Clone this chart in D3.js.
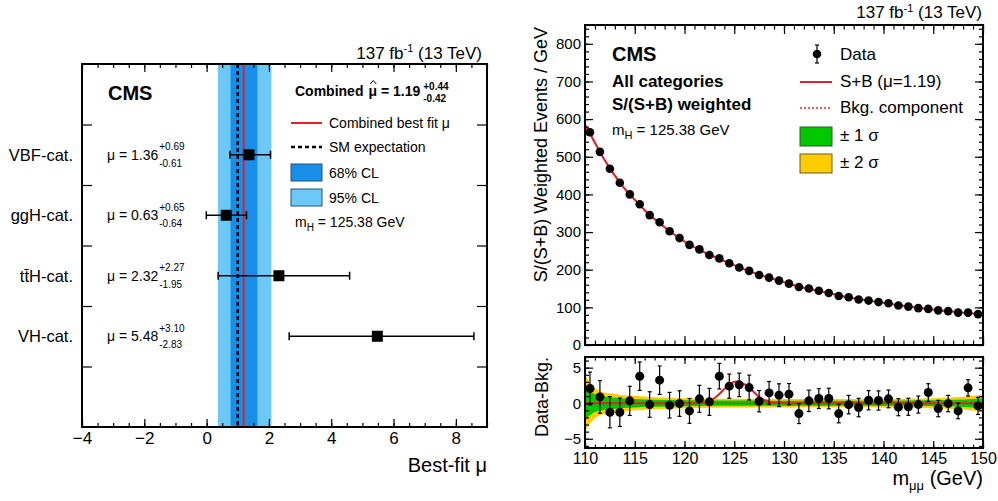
<!DOCTYPE html>
<html>
<head>
<meta charset="utf-8">
<script src="https://cdn.jsdelivr.net/npm/d3@7"></script>
<style>
  body { margin: 0; background: #fff; }
  text { font-family: "Liberation Sans", Arial, sans-serif; fill: #000; }
</style>
</head>
<body>
<script>
// ---- left panel data: per-category signal strength ----
var categories = ["VBF-cat.", "ggH-cat.", "tt\u0304H-cat.", "VH-cat."];
var muValues = [1.36, 0.63, 2.32, 5.48];
var muErrUp = [0.69, 0.65, 2.27, 3.10];
var muErrDown = [0.61, 0.64, 1.95, 2.83];
var catPos = [4.5, 3.5, 2.5, 1.5];
var combinedMu = 1.19;
var combinedErr = [0.42, 0.44];
var band95 = [0.36, 2.08];
var smMu = 1.0;
var leftXTicks = [-4, -2, 0, 2, 4, 6, 8];

// ---- right panel data: m_mumu spectrum ----
var binCenters = [110.5, 111.5, 112.5, 113.5, 114.5, 115.5, 116.5, 117.5, 118.5, 119.5,
  120.5, 121.5, 122.5, 123.5, 124.5, 125.5, 126.5, 127.5, 128.5, 129.5,
  130.5, 131.5, 132.5, 133.5, 134.5, 135.5, 136.5, 137.5, 138.5, 139.5,
  140.5, 141.5, 142.5, 143.5, 144.5, 145.5, 146.5, 147.5, 148.5, 149.5];
var dataVals = [565, 513, 468, 431, 400, 374, 345, 326, 302, 284,
  266, 254, 239, 230, 217, 206, 197, 186, 179, 171,
  163, 154, 150, 144, 138, 130, 127, 121, 118, 114,
  111, 105, 102, 98, 96, 92, 90, 86, 86, 82];
var diffVals = [2.07, 0.89, -1.27, -1.27, 0.33, 3.8, -0.19, 3.24, -0.28, -0.05,
  -1.08, 0.61, 0.19, 3.8, 2.4, 2.58, 2.2, 0.28, 1.45, 1.13,
  1.27, -1.46, 0.33, 0.66, 0.66, -1.46, -0.2, -0.61, 0.42, 0.38,
  0.61, -0.56, -0.5, -0.19, 1.5, -0.75, -0.05, -1.08, 2.16, -0.38];
var dataErr = [2.3, 2.3, 2.2, 2.0, 2.05, 2.0, 1.8, 2.0, 1.8, 1.8,
  1.75, 1.9, 1.9, 1.8, 1.7, 1.65, 1.75, 1.5, 1.6, 1.6,
  1.5, 1.4, 1.5, 1.4, 1.45, 1.3, 1.3, 1.3, 1.35, 1.35,
  1.25, 1.2, 1.2, 1.2, 1.25, 1.15, 1.15, 1.1, 1.15, 1.2];
// S+B fit curve
var fitX = [110, 111, 112, 113, 114, 115, 116, 118, 120, 122, 124, 126, 128, 130,
  132, 134, 136, 138, 140, 142, 144, 146, 148, 150];
var fitY = [585, 537, 490, 450, 415, 386, 358, 313, 275, 246, 223, 201, 183, 167,
  152, 141, 129, 120, 112, 104, 97, 91, 86, 81];
// signal part (S+B minus B) in the ratio pad
var sigX = [110, 121, 122, 123, 123.5, 124, 124.5, 125.2, 126, 126.5, 127, 127.5, 128, 128.5, 129, 130, 150];
var sigY = [0, 0, 0.1, 0.7, 1.3, 2.0, 2.6, 3.05, 2.7, 2.2, 1.5, 0.9, 0.45, 0.2, 0.05, 0, 0];
// background uncertainty bands
var bandX = [110, 110.5, 111, 111.5, 112.5, 113.5, 115, 117, 120, 125, 130, 135, 140, 145, 148, 150];
var sigma1 = [2.25, 1.7, 1.25, 1.05, 0.85, 0.7, 0.6, 0.5, 0.42, 0.37, 0.35, 0.34, 0.34, 0.4, 0.52, 0.7];
var sigma2 = [3.9, 2.9, 2.1, 1.7, 1.4, 1.2, 1.0, 0.85, 0.7, 0.62, 0.6, 0.58, 0.6, 0.7, 0.9, 1.2];

var svg = d3.select("body").append("svg")
  .attr("width", 998)
  .attr("height", 501);

// inward ROOT-like ticks, no domain line
function inTicks(g, axis, vals, len, labels, pad, fs) {
  var a = axis.tickValues(vals).tickSize(-len).tickPadding(pad || 4);
  if (!labels) a.tickFormat("");
  g.call(a);
  g.select(".domain").remove();
  g.selectAll(".tick line").attr("stroke", "#000").attr("stroke-width", 1.2);
  g.selectAll("text").attr("font-size", fs || 15).attr("font-family", "Liberation Sans, Arial, sans-serif").attr("fill", "#000");
  return g;
}

// =================== LEFT PANEL ===================
var L = { left: 82, right: 487, top: 64, bottom: 427 };
var xL = d3.scaleLinear().domain([-4, 9]).range([L.left, L.right]);
var yL = d3.scaleLinear().domain([0, 6]).range([L.bottom, L.top]);

var left = svg.append("g");

// CL bands
left.append("rect")
  .attr("x", xL(band95[0])).attr("y", L.top)
  .attr("width", xL(band95[1]) - xL(band95[0])).attr("height", L.bottom - L.top)
  .attr("fill", "#6cc8f6");
left.append("rect")
  .attr("x", xL(combinedMu - combinedErr[0])).attr("y", L.top)
  .attr("width", xL(combinedMu + combinedErr[1]) - xL(combinedMu - combinedErr[0])).attr("height", L.bottom - L.top)
  .attr("fill", "#178ee8");
left.append("line")
  .attr("x1", xL(smMu)).attr("x2", xL(smMu)).attr("y1", L.top).attr("y2", L.bottom)
  .attr("stroke", "#000").attr("stroke-width", 2.5).attr("stroke-dasharray", "4,3");
left.append("line")
  .attr("x1", xL(combinedMu)).attr("x2", xL(combinedMu)).attr("y1", L.top).attr("y2", L.bottom)
  .attr("stroke", "#e0202a").attr("stroke-width", 2);

// ticks
var lTicksMinor = d3.range(-4, 9.01, 0.5);
inTicks(left.append("g").attr("transform", `translate(0,${L.bottom})`), d3.axisBottom(xL), lTicksMinor, 4);
inTicks(left.append("g").attr("transform", `translate(0,${L.bottom})`), d3.axisBottom(xL), leftXTicks, 8, true, 5, 17);
inTicks(left.append("g").attr("transform", `translate(0,${L.top})`), d3.axisTop(xL), lTicksMinor, 4);
inTicks(left.append("g").attr("transform", `translate(0,${L.top})`), d3.axisTop(xL), leftXTicks, 8);
inTicks(left.append("g").attr("transform", `translate(${L.left},0)`), d3.axisLeft(yL), [1, 2, 3, 4, 5], 10);
inTicks(left.append("g").attr("transform", `translate(${L.right},0)`), d3.axisRight(yL), [1, 2, 3, 4, 5], 10);

// per-category points
categories.forEach(function(c, i) {
  var yc = yL(catPos[i]);
  var lo = xL(muValues[i] - muErrDown[i]), hi = xL(muValues[i] + muErrUp[i]);
  left.append("line").attr("x1", lo).attr("x2", hi).attr("y1", yc).attr("y2", yc)
    .attr("stroke", "#000").attr("stroke-width", 1.5);
  [lo, hi].forEach(function(xx) {
    left.append("line").attr("x1", xx).attr("x2", xx).attr("y1", yc - 4).attr("y2", yc + 4)
      .attr("stroke", "#000").attr("stroke-width", 1.5);
  });
  left.append("rect").attr("x", xL(muValues[i]) - 5.5).attr("y", yc - 5.5)
    .attr("width", 11).attr("height", 11).attr("fill", "#000");

  left.append("text").attr("x", 73).attr("y", yc + 6)
    .attr("text-anchor", "end").attr("font-size", 16.5).text(c);
  var t = left.append("text").attr("x", 107).attr("y", yc + 5).attr("font-size", 14)
    .text("\u03bc = " + muValues[i].toFixed(2));
  var w = t.node().getComputedTextLength();
  left.append("text").attr("x", 108 + w).attr("y", yc - 4.5).attr("font-size", 10)
    .text("+" + muErrUp[i].toFixed(2));
  left.append("text").attr("x", 108 + w).attr("y", yc + 12).attr("font-size", 10)
    .text("-" + muErrDown[i].toFixed(2));
});

left.append("rect")
  .attr("x", L.left).attr("y", L.top)
  .attr("width", L.right - L.left).attr("height", L.bottom - L.top)
  .attr("fill", "none").attr("stroke", "#000").attr("stroke-width", 2);

// texts
left.append("text").attr("x", 108).attr("y", 100).attr("font-size", 20).attr("font-weight", "bold").text("CMS");
var lumiL = left.append("text").attr("x", 482).attr("y", 59).attr("text-anchor", "end").attr("font-size", 17);
lumiL.append("tspan").text("137 fb");
lumiL.append("tspan").attr("font-size", 11).attr("dy", -7).text("-1");
lumiL.append("tspan").attr("dy", 7).text(" (13 TeV)");
left.append("text").attr("x", 487).attr("y", 472).attr("text-anchor", "end").attr("font-size", 20).text("Best-fit \u03bc");

// combined result, hat over mu drawn as a small path
var pre = left.append("text").attr("x", 295).attr("y", 96).attr("font-size", 14).attr("font-weight", "bold")
  .text("Combined");
var muX = 295 + pre.node().getComputedTextLength() + 5;
var muT = left.append("text").attr("x", muX).attr("y", 96).attr("font-size", 14).attr("font-weight", "bold")
  .text("\u03bc");
var mw = muT.node().getComputedTextLength();
var hx = muX + mw / 2 + 0.5;
left.append("path").attr("d", `M${hx - 3},${84} L${hx},${80.5} L${hx + 3},${84}`)
  .attr("fill", "none").attr("stroke", "#000").attr("stroke-width", 1);
var rest = left.append("text").attr("x", muX + mw).attr("y", 96).attr("font-size", 14).attr("font-weight", "bold")
  .text("\u00a0= " + combinedMu.toFixed(2));
var supX = muX + mw + rest.node().getComputedTextLength() + 3;
left.append("text").attr("x", supX).attr("y", 89.5).attr("font-size", 10).attr("font-weight", "bold")
  .text("+" + combinedErr[1].toFixed(2));
left.append("text").attr("x", supX).attr("y", 101.5).attr("font-size", 10).attr("font-weight", "bold")
  .text("-" + combinedErr[0].toFixed(2));

// legend
left.append("line").attr("x1", 291).attr("x2", 322).attr("y1", 123).attr("y2", 123)
  .attr("stroke", "#e0202a").attr("stroke-width", 2);
left.append("text").attr("x", 329).attr("y", 128).attr("font-size", 14).text("Combined best fit \u03bc");
left.append("line").attr("x1", 291).attr("x2", 322).attr("y1", 147).attr("y2", 147)
  .attr("stroke", "#000").attr("stroke-width", 2.5).attr("stroke-dasharray", "4,3");
left.append("text").attr("x", 329).attr("y", 152).attr("font-size", 14).text("SM expectation");
left.append("rect").attr("x", 291).attr("y", 164).attr("width", 31).attr("height", 17)
  .attr("fill", "#178ee8").attr("stroke", "#24507a").attr("stroke-width", 1);
left.append("text").attr("x", 329).attr("y", 178).attr("font-size", 14).text("68% CL");
left.append("rect").attr("x", 291).attr("y", 189).attr("width", 31).attr("height", 17)
  .attr("fill", "#6cc8f6").attr("stroke", "#24507a").attr("stroke-width", 1);
left.append("text").attr("x", 329).attr("y", 203).attr("font-size", 14).text("95% CL");
var mhL = left.append("text").attr("x", 295).attr("y", 227).attr("font-size", 14);
mhL.append("tspan").text("m");
mhL.append("tspan").attr("font-size", 10).attr("dy", 4).text("H");
mhL.append("tspan").attr("dy", -4).text(" = 125.38 GeV");

// =================== RIGHT PANEL ===================
var R = { left: 585, right: 983, top: 25, mid: 345, ltop: 357, bottom: 448 };
var xR = d3.scaleLinear().domain([110, 150]).range([R.left, R.right]);
var yU = d3.scaleLinear().domain([0, 850]).range([R.mid, R.top]);
var yD = d3.scaleLinear().domain([-6.3, 6.5]).range([R.bottom, R.ltop]);

var right = svg.append("g");

// upper pad curves
var fitLine = d3.line().x(function(d) { return xR(d[0]); }).y(function(d) { return yU(d[1]); }).curve(d3.curveMonotoneX);
var fitPts = d3.zip(fitX, fitY);
right.append("path").attr("d", fitLine(fitPts)).attr("fill", "none")
  .attr("stroke", "#e0202a").attr("stroke-width", 1.5).attr("stroke-dasharray", "2,2");
right.append("path").attr("d", fitLine(fitPts)).attr("fill", "none")
  .attr("stroke", "#e0202a").attr("stroke-width", 2);

// upper pad data
binCenters.forEach(function(b, i) {
  right.append("line").attr("x1", xR(b)).attr("x2", xR(b))
    .attr("y1", yU(dataVals[i] - dataErr[i])).attr("y2", yU(dataVals[i] + dataErr[i]))
    .attr("stroke", "#000").attr("stroke-width", 1.2);
});
right.selectAll("circle.up").data(binCenters).join("circle")
  .attr("class", "up")
  .attr("cx", function(d) { return xR(d); })
  .attr("cy", function(d, i) { return yU(dataVals[i]); })
  .attr("r", 4.3).attr("fill", "#000");

// ratio pad bands
var area2 = d3.area().x(function(d) { return xR(d[0]); })
  .y0(function(d) { return yD(-d[2]); }).y1(function(d) { return yD(d[2]); }).curve(d3.curveMonotoneX);
var area1 = d3.area().x(function(d) { return xR(d[0]); })
  .y0(function(d) { return yD(-d[1]); }).y1(function(d) { return yD(d[1]); }).curve(d3.curveMonotoneX);
var bandPts = d3.zip(bandX, sigma1, sigma2);
right.append("path").attr("d", area2(bandPts)).attr("fill", "#ffcc00");
right.append("path").attr("d", area1(bandPts)).attr("fill", "#00c800");

right.append("line").attr("x1", R.left).attr("x2", R.right).attr("y1", yD(0)).attr("y2", yD(0))
  .attr("stroke", "#e0202a").attr("stroke-width", 1.5).attr("stroke-dasharray", "2,2");
var sigLine = d3.line().x(function(d) { return xR(d[0]); }).y(function(d) { return yD(d[1]); }).curve(d3.curveMonotoneX);
right.append("path").attr("d", sigLine(d3.zip(sigX, sigY))).attr("fill", "none")
  .attr("stroke", "#e0202a").attr("stroke-width", 2);

// ratio pad data with capped error bars
binCenters.forEach(function(b, i) {
  var x0 = xR(b), y1 = yD(diffVals[i] - dataErr[i]), y2 = yD(diffVals[i] + dataErr[i]);
  right.append("line").attr("x1", x0).attr("x2", x0).attr("y1", y1).attr("y2", y2)
    .attr("stroke", "#000").attr("stroke-width", 1.2);
  [y1, y2].forEach(function(yy) {
    right.append("line").attr("x1", x0 - 2).attr("x2", x0 + 2).attr("y1", yy).attr("y2", yy)
      .attr("stroke", "#000").attr("stroke-width", 1.2);
  });
});
right.selectAll("circle.dn").data(binCenters).join("circle")
  .attr("class", "dn")
  .attr("cx", function(d) { return xR(d); })
  .attr("cy", function(d, i) { return yD(diffVals[i]); })
  .attr("r", 4.5).attr("fill", "#000");

// axes upper pad
var xMinor = d3.range(110, 150.01, 1);
var xMajor = d3.range(110, 150.01, 5);
inTicks(right.append("g").attr("transform", `translate(0,${R.mid})`), d3.axisBottom(xR), xMinor, 4.5);
inTicks(right.append("g").attr("transform", `translate(0,${R.mid})`), d3.axisBottom(xR), xMajor, 9);
inTicks(right.append("g").attr("transform", `translate(0,${R.top})`), d3.axisTop(xR), xMinor, 4.5);
inTicks(right.append("g").attr("transform", `translate(0,${R.top})`), d3.axisTop(xR), xMajor, 9);
var yUMinor = d3.range(0, 851, 20);
var yUMajor = d3.range(0, 801, 100);
inTicks(right.append("g").attr("transform", `translate(${R.left},0)`), d3.axisLeft(yU), yUMinor, 4);
inTicks(right.append("g").attr("transform", `translate(${R.left},0)`), d3.axisLeft(yU), yUMajor, 8, true, 4, 15);
inTicks(right.append("g").attr("transform", `translate(${R.right},0)`), d3.axisRight(yU), yUMinor, 4);
inTicks(right.append("g").attr("transform", `translate(${R.right},0)`), d3.axisRight(yU), yUMajor, 8);

// axes lower pad
inTicks(right.append("g").attr("transform", `translate(0,${R.bottom})`), d3.axisBottom(xR), xMinor, 3.5);
inTicks(right.append("g").attr("transform", `translate(0,${R.bottom})`), d3.axisBottom(xR), xMajor, 7, true, 5, 16);
inTicks(right.append("g").attr("transform", `translate(0,${R.ltop})`), d3.axisTop(xR), xMinor, 3.5);
inTicks(right.append("g").attr("transform", `translate(0,${R.ltop})`), d3.axisTop(xR), xMajor, 7);
var yDMinor = d3.range(-6, 6.01, 1);
var yDMajor = [-5, 0, 5];
inTicks(right.append("g").attr("transform", `translate(${R.left},0)`), d3.axisLeft(yD), yDMinor, 4);
inTicks(right.append("g").attr("transform", `translate(${R.left},0)`), d3.axisLeft(yD), yDMajor, 8, true, 4, 15);
inTicks(right.append("g").attr("transform", `translate(${R.right},0)`), d3.axisRight(yD), yDMinor, 4);
inTicks(right.append("g").attr("transform", `translate(${R.right},0)`), d3.axisRight(yD), yDMajor, 8);

// frames
right.append("rect").attr("x", R.left).attr("y", R.top)
  .attr("width", R.right - R.left).attr("height", R.mid - R.top)
  .attr("fill", "none").attr("stroke", "#000").attr("stroke-width", 2);
right.append("rect").attr("x", R.left).attr("y", R.ltop)
  .attr("width", R.right - R.left).attr("height", R.bottom - R.ltop)
  .attr("fill", "none").attr("stroke", "#000").attr("stroke-width", 2);

// titles
var lumiR = right.append("text").attr("x", 982).attr("y", 18).attr("text-anchor", "end").attr("font-size", 17);
lumiR.append("tspan").text("137 fb");
lumiR.append("tspan").attr("font-size", 11).attr("dy", -6).text("-1");
lumiR.append("tspan").attr("dy", 6).text(" (13 TeV)");
right.append("text").attr("transform", "translate(547,27) rotate(-90)")
  .attr("text-anchor", "end").attr("font-size", 18).text("S/(S+B) Weighted Events / GeV");
right.append("text").attr("transform", "translate(548,357) rotate(-90)")
  .attr("text-anchor", "end").attr("font-size", 18).text("Data-Bkg.");
var mmm = right.append("text").attr("x", 983).attr("y", 485).attr("text-anchor", "end").attr("font-size", 20);
mmm.append("tspan").text("m");
mmm.append("tspan").attr("font-size", 13).attr("dy", 5).text("\u03bc\u03bc");
mmm.append("tspan").attr("dy", -5).text(" (GeV)");

right.append("text").attr("x", 612).attr("y", 61).attr("font-size", 20).attr("font-weight", "bold").text("CMS");
right.append("text").attr("x", 612).attr("y", 87).attr("font-size", 17).attr("font-weight", "bold").text("All categories");
right.append("text").attr("x", 612).attr("y", 110).attr("font-size", 17).attr("font-weight", "bold").text("S/(S+B) weighted");
var mhR = right.append("text").attr("x", 612).attr("y", 135).attr("font-size", 15);
mhR.append("tspan").text("m");
mhR.append("tspan").attr("font-size", 11).attr("dy", 4).text("H");
mhR.append("tspan").attr("dy", -4).text(" = 125.38 GeV");

// legend
right.append("line").attr("x1", 817).attr("x2", 817).attr("y1", 45).attr("y2", 63).attr("stroke", "#000").attr("stroke-width", 1.2);
right.append("line").attr("x1", 815).attr("x2", 819).attr("y1", 45).attr("y2", 45).attr("stroke", "#000").attr("stroke-width", 1.2);
right.append("line").attr("x1", 815).attr("x2", 819).attr("y1", 63).attr("y2", 63).attr("stroke", "#000").attr("stroke-width", 1.2);
right.append("circle").attr("cx", 817).attr("cy", 54).attr("r", 4.3).attr("fill", "#000");
right.append("text").attr("x", 840).attr("y", 60).attr("font-size", 17).text("Data");
right.append("line").attr("x1", 800).attr("x2", 832).attr("y1", 82).attr("y2", 82).attr("stroke", "#e0202a").attr("stroke-width", 2);
right.append("text").attr("x", 840).attr("y", 87).attr("font-size", 17).text("S+B (\u03bc=1.19)");
right.append("line").attr("x1", 800).attr("x2", 832).attr("y1", 108).attr("y2", 108).attr("stroke", "#e0202a").attr("stroke-width", 1.5).attr("stroke-dasharray", "2,2");
right.append("text").attr("x", 840).attr("y", 113).attr("font-size", 17).text("Bkg. component");
right.append("rect").attr("x", 800).attr("y", 127).attr("width", 32).attr("height", 19)
  .attr("fill", "#00c800").attr("stroke", "#2a5a2a").attr("stroke-width", 1);
right.append("text").attr("x", 840).attr("y", 141).attr("font-size", 17).text("\u00b1 1 \u03c3");
right.append("rect").attr("x", 800).attr("y", 154).attr("width", 32).attr("height", 19)
  .attr("fill", "#ffcc00").attr("stroke", "#6a5a20").attr("stroke-width", 1);
right.append("text").attr("x", 840).attr("y", 168).attr("font-size", 17).text("\u00b1 2 \u03c3");
</script>
</body>
</html>
